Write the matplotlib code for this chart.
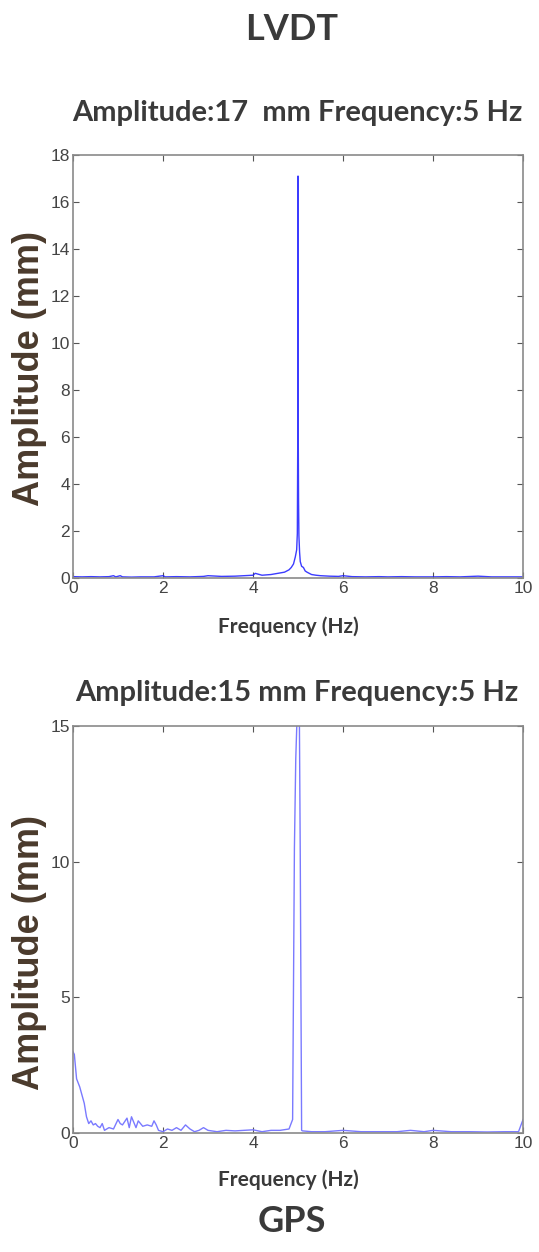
import matplotlib
matplotlib.use("Agg")
import matplotlib.pyplot as plt

# LVDT spectrum
lvdt_freq = [0.0, 0.2, 0.4, 0.6, 0.8, 0.9, 0.95, 1.05, 1.1, 1.3, 1.5, 1.8, 2.0, 2.05,
             2.3, 2.6, 2.9, 3.0, 3.3, 3.6, 3.8, 4.0, 4.05, 4.2, 4.4, 4.55, 4.7, 4.8,
             4.85, 4.9, 4.94, 4.97, 4.985, 4.995, 5.0, 5.005, 5.012, 5.02, 5.035,
             5.05, 5.08, 5.12, 5.16, 5.2, 5.25, 5.3, 5.4, 5.5, 5.7, 5.9, 6.0, 6.2,
             6.5, 6.8, 7.0, 7.3, 7.6, 8.0, 8.3, 8.6, 9.0, 9.3, 9.6, 10.0]
lvdt_amp = [0.06, 0.05, 0.06, 0.05, 0.06, 0.1, 0.05, 0.1, 0.05, 0.04, 0.05, 0.05, 0.1, 0.05,
            0.06, 0.05, 0.07, 0.1, 0.07, 0.08, 0.1, 0.12, 0.2, 0.12, 0.15, 0.2, 0.25, 0.35,
            0.45, 0.6, 0.9, 1.2, 1.9, 6.3, 17.1, 6.2, 3.3, 1.8, 1.1,
            0.7, 0.5, 0.45, 0.3, 0.25, 0.2, 0.15, 0.12, 0.1, 0.08, 0.07, 0.1, 0.06,
            0.05, 0.06, 0.05, 0.06, 0.05, 0.05, 0.06, 0.05, 0.08, 0.05, 0.05, 0.05]

# GPS spectrum
gps_freq = [0.0, 0.03, 0.08, 0.15, 0.2, 0.25, 0.3, 0.35, 0.4, 0.45, 0.5, 0.55, 0.6,
            0.65, 0.7, 0.8, 0.9, 1.0, 1.05, 1.1, 1.2, 1.25, 1.3, 1.4, 1.45, 1.55,
            1.65, 1.75, 1.8, 1.85, 1.9, 2.0, 2.1, 2.2, 2.3, 2.4, 2.5, 2.6, 2.7, 2.8,
            2.9, 3.0, 3.2, 3.4, 3.6, 3.8, 4.0, 4.2, 4.4, 4.6, 4.8, 4.88, 4.92, 4.95,
            4.98, 5.0, 5.03, 5.05, 5.08, 5.1, 5.3, 5.6, 6.0, 6.4, 6.8, 7.2, 7.5, 7.8,
            8.0, 8.4, 8.8, 9.2, 9.6, 9.9, 10.0]
gps_amp = [3.0, 2.9, 2.0, 1.7, 1.4, 1.1, 0.6, 0.35, 0.45, 0.3, 0.35, 0.25, 0.2,
           0.35, 0.1, 0.2, 0.15, 0.5, 0.35, 0.3, 0.55, 0.2, 0.6, 0.2, 0.45, 0.25,
           0.3, 0.25, 0.45, 0.3, 0.1, 0.05, 0.15, 0.1, 0.2, 0.1, 0.3, 0.15, 0.05, 0.1,
           0.2, 0.1, 0.05, 0.1, 0.08, 0.1, 0.12, 0.05, 0.1, 0.1, 0.15, 0.5, 10.5, 13.8,
           15.4, 15.4, 15.4, 10.2, 0.1, 0.08, 0.05, 0.05, 0.1, 0.05, 0.05, 0.05, 0.1, 0.05,
           0.1, 0.05, 0.05, 0.04, 0.05, 0.05, 0.5]

lvdt_yticks = [0, 2, 4, 6, 8, 10, 12, 14, 16, 18]
gps_yticks = [0, 5, 10, 15]
xticks = [0, 2, 4, 6, 8, 10]

TITLE_FONT = ["Lato", "DejaVu Sans"]
ARIAL = ["Liberation Sans", "DejaVu Sans"]
LABEL_COLOR = "#3a3a3a"
YLABEL_COLOR = "#4a3a2c"


def style_axes(ax, yticks, ymax):
    ax.set_xlim(0, 10)
    ax.set_ylim(0, ymax)
    ax.set_xticks(xticks)
    ax.set_yticks(yticks)
    ax.tick_params(direction="in", top=True, right=True, length=4,
                   color="#555555", labelcolor="#444444", labelsize=12.5, pad=2)
    for lab in ax.get_xticklabels() + ax.get_yticklabels():
        lab.set_family(ARIAL)
    for s in ax.spines.values():
        s.set_color("#8a8a8a")
        s.set_linewidth(1.2)


fig = plt.figure(figsize=(5.39, 12.52), dpi=100)

ax1 = fig.add_axes([0.1354, 0.5383, 0.835, 0.338])
ax1.plot(lvdt_freq, lvdt_amp, color="#1a1aff", lw=1.0, alpha=0.85)
style_axes(ax1, lvdt_yticks, 18)

ax2 = fig.add_axes([0.1354, 0.095, 0.835, 0.325])
ax2.plot(gps_freq, gps_amp, color="#7a7aff", lw=1.0)
style_axes(ax2, gps_yticks, 15)

fig.text(292 / 539, 1 - 30 / 1252, "LVDT", family=TITLE_FONT, fontweight="bold",
         fontsize=26, color=LABEL_COLOR, ha="center", va="center")
fig.text(297 / 539, 1 - 113 / 1252, "Amplitude:17  mm Frequency:5 Hz", family=TITLE_FONT,
         fontweight="bold", fontsize=21, color=LABEL_COLOR, ha="center", va="center")
fig.text(297 / 539, 1 - 693 / 1252, "Amplitude:15 mm Frequency:5 Hz", family=TITLE_FONT,
         fontweight="bold", fontsize=21, color=LABEL_COLOR, ha="center", va="center")
fig.text(288 / 539, 1 - 627 / 1252, "Frequency (Hz)", family=TITLE_FONT, fontweight="bold",
         fontsize=15, color=LABEL_COLOR, ha="center", va="center")
fig.text(288 / 539, 1 - 1180 / 1252, "Frequency (Hz)", family=TITLE_FONT, fontweight="bold",
         fontsize=15, color=LABEL_COLOR, ha="center", va="center")
fig.text(292 / 539, 1 - 1222 / 1252, "GPS", family=TITLE_FONT, fontweight="bold",
         fontsize=26, color=LABEL_COLOR, ha="center", va="center")

fig.text(30 / 539, 1 - 368 / 1252, "Amplitude (mm)", family=ARIAL,
         fontweight="bold", fontsize=26, color=YLABEL_COLOR, rotation=90,
         ha="center", va="center")
fig.text(30 / 539, 1 - 953 / 1252, "Amplitude (mm)", family=ARIAL,
         fontweight="bold", fontsize=26, color=YLABEL_COLOR, rotation=90,
         ha="center", va="center")

fig.savefig("out.png", dpi=100)
